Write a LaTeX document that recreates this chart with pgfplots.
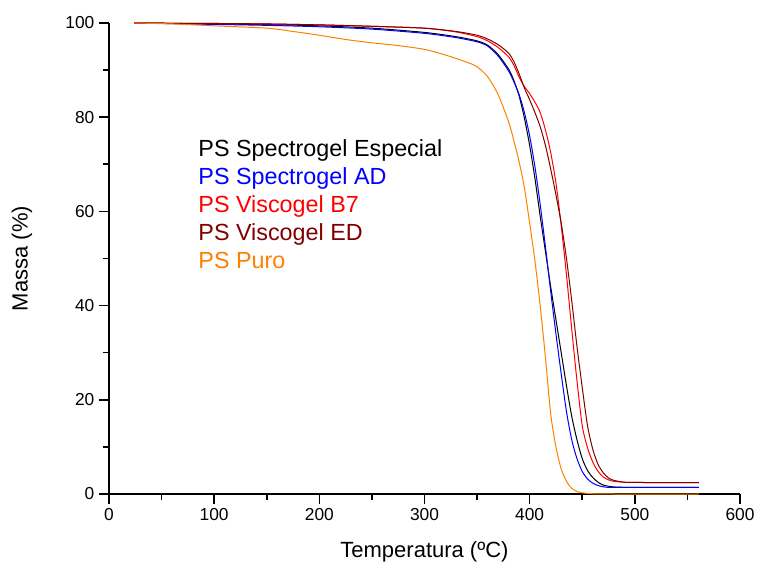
\documentclass[border=0pt]{standalone}
\usepackage{pgfplots}
\pgfplotsset{compat=1.18}
\usepackage{fontspec}
\setmainfont{Liberation Sans}
\definecolor{cBlue}{RGB}{0,0,255}
\definecolor{cRed}{RGB}{255,0,0}
\definecolor{cBrown}{RGB}{128,0,0}
\definecolor{cOrange}{RGB}{255,128,0}
\begin{document}
\begin{tikzpicture}
\begin{axis}[
  scale only axis, width=473.25pt, height=353.25pt,
  xmin=0, xmax=600, ymin=0, ymax=100,
  axis x line*=bottom, axis y line*=left,
  axis line style={line width=1.2pt, black},
  tick align=outside, major tick length=7.5pt, minor tick length=4.5pt,
  every tick/.style={line width=1.2pt, black},
  xtick={0,100,...,600}, minor xtick={50,150,...,550},
  ytick={0,20,...,100}, minor ytick={10,30,...,90},
  tick label style={font=\fontsize{13}{15}\selectfont},
  /pgf/number format/assume math mode=true,
  xlabel={Temperatura (ºC)}, ylabel={Massa (\%)},
  label style={font=\fontsize{16.5}{19}\selectfont},
  xlabel style={at={([yshift=-47.25pt]axis description cs:0.5,0)}, anchor=base},
  ylabel style={at={([xshift=-65.25pt]axis description cs:0,0.5)}, anchor=center},
  clip=false,
  every axis plot/.append style={line width=0.75pt, smooth, tension=0.45},
]
% PS Spectrogel Especial
\addplot[black] coordinates {(24,100)(50,99.95)(100,99.8)(150,99.65)(200,99.4)(250,98.9)(300,98)(330,97.1)(350,96.2)(360,95.3)(370,93.3)(380,90.2)(385,87.8)(390,84.5)(395,79.8)(400,74)(405,67)(410,59)(415,51.5)(420,44)(425,37)(430,30)(435,23)(440,16.5)(445,11.5)(450,7.5)(455,5)(460,3.5)(465,2.5)(470,1.9)(480,1.5)(500,1.4)(561,1.4)};
% PS Spectrogel AD
\addplot[cBlue] coordinates {(24,100)(50,99.9)(100,99.7)(150,99.5)(200,99.2)(250,98.7)(300,97.8)(330,96.9)(350,96)(360,95.1)(370,93)(380,89.8)(385,87.5)(390,84.8)(395,81)(400,76)(405,69.5)(410,61.5)(415,52.5)(420,43)(425,34)(430,25.5)(435,17.5)(440,11.5)(445,7.5)(450,4.8)(455,3.2)(460,2.3)(465,1.8)(470,1.55)(480,1.4)(561,1.4)};
% PS Viscogel B7
\addplot[cRed] coordinates {(24,100)(50,99.95)(100,99.9)(150,99.8)(200,99.6)(250,99.3)(300,98.9)(330,98.1)(350,97.1)(360,96.2)(370,94.8)(380,92.8)(385,91)(390,88.5)(395,86.5)(400,85)(405,83.2)(410,81)(415,77.3)(420,72.5)(425,66)(430,57)(435,46.5)(440,35)(445,24)(450,14.5)(455,9.8)(460,6.8)(465,4.8)(470,3.6)(475,3)(480,2.7)(490,2.5)(500,2.45)(561,2.4)};
% PS Viscogel ED
\addplot[cBrown] coordinates {(24,100)(50,99.95)(100,99.9)(150,99.8)(200,99.6)(250,99.3)(300,98.9)(330,98.2)(350,97.4)(360,96.6)(370,95.4)(380,93.6)(385,91.8)(390,89.2)(395,86.2)(400,83.7)(405,81)(410,78)(415,74)(420,69)(425,63.5)(430,57.5)(435,50)(440,41)(445,31.3)(450,22.6)(455,14.5)(460,9.5)(465,6.3)(470,4.5)(475,3.4)(480,2.9)(490,2.5)(500,2.45)(561,2.4)};
% PS Puro
\addplot[cOrange] coordinates {(24,100)(60,99.8)(100,99.4)(150,98.9)(175,98.2)(200,97.4)(225,96.5)(250,95.8)(275,95.2)(300,94.4)(320,93.2)(340,91.7)(350,90.7)(360,88.6)(370,84.8)(380,79)(385,75)(390,70.5)(395,65)(400,57.5)(405,49.5)(410,40)(415,29)(420,17)(425,10)(430,5.3)(435,2.7)(440,1.2)(445,0.55)(450,0.25)(460,0.05)(480,0)(561,0)};
\node[anchor=north west, align=left, inner sep=0pt, font=\fontsize{17.5}{20.9}\selectfont] at (axis cs:84.8,75.2)
  {\textcolor{black}{PS Spectrogel Especial}\\
   \textcolor{cBlue}{PS Spectrogel AD}\\
   \textcolor{cRed}{PS Viscogel B7}\\
   \textcolor{cBrown}{PS Viscogel ED}\\
   \textcolor{cOrange}{PS Puro}};
\end{axis}
\pgfresetboundingbox
\path[use as bounding box] ([shift={(-81.75pt,-54.75pt)}]current axis.south west) rectangle ([shift={(15pt,17.25pt)}]current axis.north east);
\end{tikzpicture}
\end{document}
